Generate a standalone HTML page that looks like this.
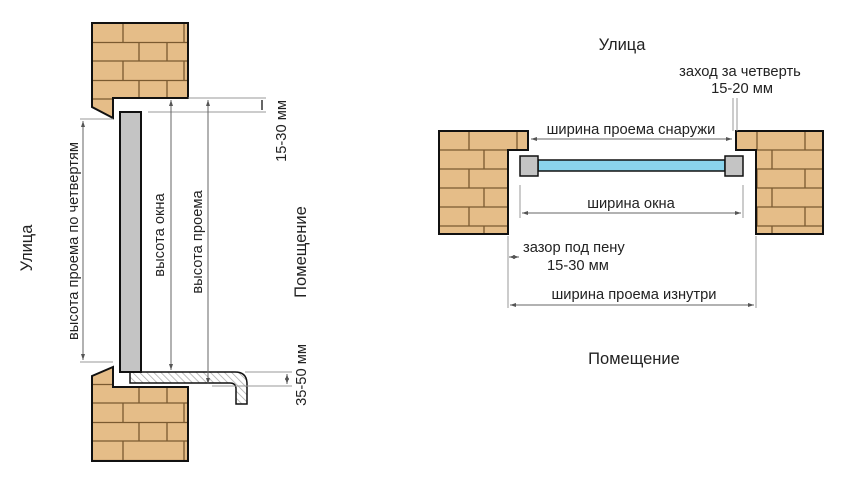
<!DOCTYPE html>
<html><head><meta charset="utf-8"><style>
html,body{margin:0;padding:0;background:#fff;}
svg{display:block;}
text{font-family:"Liberation Sans",sans-serif;fill:#222;}
</style></head><body>
<svg width="850" height="482" viewBox="0 0 850 482" xmlns="http://www.w3.org/2000/svg">
<defs>
<pattern id="br" width="96" height="38" patternUnits="userSpaceOnUse" x="92" y="23">
<rect width="96" height="38" fill="#e5bd88"/>
<path d="M0 19.5H96M0 38H96M31 0V19M92 0V19M47 19V38M75 19V38M0 0H96" stroke="#7a5a30" stroke-width="1.3" fill="none"/>
</pattern>
<pattern id="br2" width="96" height="38" patternUnits="userSpaceOnUse" x="439" y="131">
<rect width="96" height="38" fill="#e5bd88"/>
<path d="M0 19H96M0 38H96M30 0V19M78 0V19M45 19V38M0 0H96" stroke="#7a5a30" stroke-width="1.3" fill="none"/>
</pattern>
<pattern id="hatch" width="5" height="5" patternUnits="userSpaceOnUse" patternTransform="rotate(-45)">
<rect width="5" height="5" fill="#fff"/><line x1="0" y1="0" x2="0" y2="5" stroke="#aaa" stroke-width="1.5"/>
</pattern>
<marker id="a" viewBox="0 0 6 6" refX="6" refY="3" markerWidth="6" markerHeight="6" orient="auto-start-reverse"><path d="M0 1L6 3L0 5z" fill="#555"/></marker>
</defs>

<!-- LEFT DIAGRAM -->
<polygon points="92,23 188,23 188,98 113,98 113,118 92,107" fill="url(#br)" stroke="#111" stroke-width="2"/>
<polygon points="92,376 113,367 113,387 188,387 188,461 92,461" fill="url(#br)" stroke="#111" stroke-width="2"/>
<path d="M130 372H235Q247 372 247 384V404H236V389Q236 383 230 383H130Z" fill="url(#hatch)" stroke="#111" stroke-width="1.5"/>
<rect x="120" y="112" width="21" height="260" fill="#c4c4c4" stroke="#111" stroke-width="2"/>

<g stroke="#999" stroke-width="1" fill="none">
<line x1="188" y1="98" x2="266" y2="98"/>
<line x1="148" y1="112" x2="266" y2="112"/>
<line x1="80" y1="119" x2="113" y2="119"/>
<line x1="80" y1="362" x2="113" y2="362"/>
<line x1="245" y1="372" x2="292" y2="372"/>
<line x1="212" y1="386" x2="292" y2="386"/>
</g>
<g stroke="#666" stroke-width="1" fill="none">
<line x1="83" y1="121" x2="83" y2="360" marker-start="url(#a)" marker-end="url(#a)"/>
<line x1="171" y1="100" x2="171" y2="370" marker-start="url(#a)" marker-end="url(#a)"/>
<line x1="208" y1="100" x2="208" y2="384" marker-start="url(#a)" marker-end="url(#a)"/>
<line x1="262" y1="100" x2="262" y2="110" stroke="#333" stroke-width="1.5"/>
<line x1="287" y1="374" x2="287" y2="384" marker-start="url(#a)" marker-end="url(#a)"/>
</g>
<text transform="translate(32,248) rotate(-90)" font-size="16.5" text-anchor="middle">Улица</text>
<text transform="translate(78,241) rotate(-90)" font-size="14.7" text-anchor="middle">высота проема по четвертям</text>
<text transform="translate(164,235) rotate(-90)" font-size="14.7" text-anchor="middle">высота окна</text>
<text transform="translate(202,242) rotate(-90)" font-size="14.7" text-anchor="middle">высота проема</text>
<text transform="translate(286,131) rotate(-90)" font-size="14.7" text-anchor="middle">15-30 мм</text>
<text transform="translate(306,252) rotate(-90)" font-size="16.5" text-anchor="middle">Помещение</text>
<text transform="translate(306,375) rotate(-90)" font-size="14.7" text-anchor="middle">35-50 мм</text>

<!-- RIGHT DIAGRAM -->
<polygon points="439,131 528,131 528,150 508,150 508,234 439,234" fill="url(#br2)" stroke="#111" stroke-width="2"/>
<polygon points="736,131 823,131 823,234 756,234 756,150 736,150" fill="url(#br2)" stroke="#111" stroke-width="2"/>
<rect x="538" y="160" width="187" height="11" fill="#8ad4ec" stroke="#111" stroke-width="1.5"/>
<rect x="520" y="156" width="18" height="20" fill="#c4c4c4" stroke="#111" stroke-width="1.5"/>
<rect x="725" y="156" width="18" height="20" fill="#c4c4c4" stroke="#111" stroke-width="1.5"/>

<g stroke="#999" stroke-width="1" fill="none">
<line x1="733" y1="98" x2="733" y2="131"/>
<line x1="737" y1="98" x2="737" y2="131"/>
<line x1="520" y1="185" x2="520" y2="218"/>
<line x1="743" y1="185" x2="743" y2="218"/>
<line x1="508" y1="236" x2="508" y2="308"/>
<line x1="756" y1="236" x2="756" y2="308"/>
</g>
<g stroke="#666" stroke-width="1" fill="none">
<line x1="531" y1="139" x2="732" y2="139" marker-start="url(#a)" marker-end="url(#a)"/>
<line x1="522" y1="213" x2="741" y2="213" marker-start="url(#a)" marker-end="url(#a)"/>
<line x1="509" y1="257" x2="519" y2="257" marker-start="url(#a)" marker-end="url(#a)"/>
<line x1="510" y1="305" x2="754" y2="305" marker-start="url(#a)" marker-end="url(#a)"/>
</g>
<text x="622" y="50" font-size="16.5" text-anchor="middle">Улица</text>
<text x="740" y="76" font-size="14.7" text-anchor="middle">заход за четверть</text>
<text x="742" y="93" font-size="14.7" text-anchor="middle">15-20 мм</text>
<text x="631" y="134" font-size="14.7" text-anchor="middle">ширина проема снаружи</text>
<text x="631" y="208" font-size="14.7" text-anchor="middle">ширина окна</text>
<text x="523" y="252" font-size="14.7">зазор под пену</text>
<text x="547" y="270" font-size="14.7">15-30 мм</text>
<text x="634" y="299" font-size="14.7" text-anchor="middle">ширина проема изнутри</text>
<text x="634" y="364" font-size="16.5" text-anchor="middle">Помещение</text>
</svg>
</body></html>
